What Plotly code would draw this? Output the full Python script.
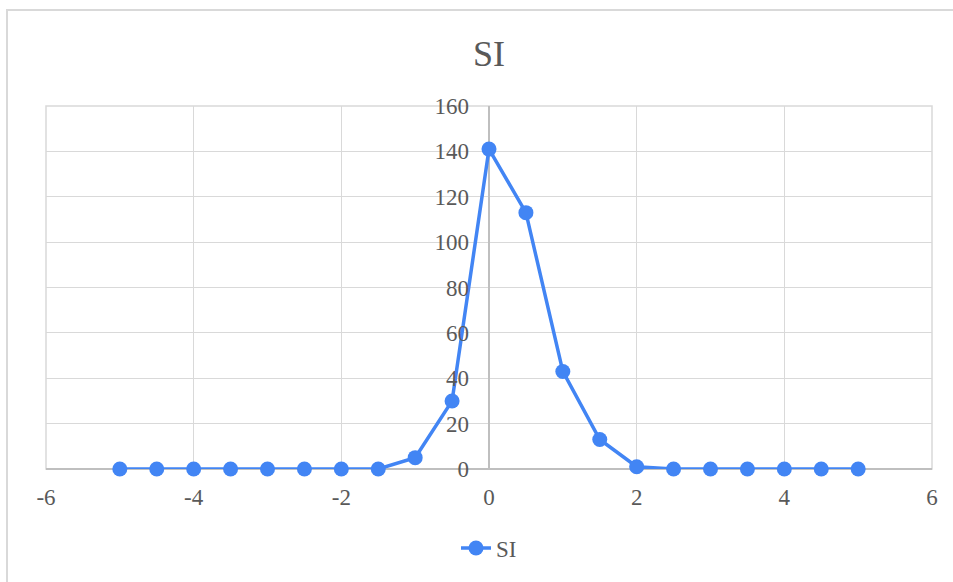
import plotly.graph_objects as go

x_vals = [-5, -4.5, -4, -3.5, -3, -2.5, -2, -1.5, -1, -0.5, 0, 0.5, 1, 1.5, 2, 2.5, 3, 3.5, 4, 4.5, 5]
si_vals = [0, 0, 0, 0, 0, 0, 0, 0, 5, 30, 141, 113, 43, 13, 1, 0, 0, 0, 0, 0, 0]
x_ticks = [-6, -4, -2, 0, 2, 4, 6]
x_tick_text = ["-6", "-4", "-2", "0", "2", "4", "6"]
y_ticks = [0, 20, 40, 60, 80, 100, 120, 140, 160]

FONT = "Liberation Serif, Times New Roman, serif"
BLUE = "#4285F4"
GRID = "#d9d9d9"
AXIS = "#bfbfbf"
TXT = "#595959"

fig = go.Figure()
fig.add_trace(go.Scatter(
    x=x_vals, y=si_vals, mode="lines+markers", name="SI",
    line=dict(color=BLUE, width=3.5),
    marker=dict(color=BLUE, size=15),
    cliponaxis=False,
))

W, H = 953, 582
ml, mr, mt, mb = 46, 21, 106, 113
pw = W - ml - mr
ph = H - mt - mb

fig.update_layout(
    width=W, height=H,
    margin=dict(l=ml, r=mr, t=mt, b=mb),
    paper_bgcolor="white", plot_bgcolor="white",
    font=dict(family=FONT, size=23, color=TXT),
    title=dict(text="SI", x=0.5, xref="paper", xanchor="center", y=1 - 53 / H, yanchor="middle",
               font=dict(family=FONT, size=36, color=TXT)),
    showlegend=True,
    legend=dict(orientation="h", x=0.5, xanchor="center", y=(469 - 548) / ph, yanchor="middle",
                font=dict(family=FONT, size=23, color=TXT)),
    xaxis=dict(range=[-6, 6], tickvals=x_ticks, ticktext=x_tick_text,
               showgrid=True, gridcolor=GRID, gridwidth=1,
               zeroline=True, zerolinecolor=AXIS, zerolinewidth=1.5,
               showline=False, ticks="", ticklabelstandoff=12,
               tickfont=dict(family=FONT, size=23, color=TXT)),
    yaxis=dict(range=[0, 160], tickvals=y_ticks, showgrid=True, gridcolor=GRID, gridwidth=1,
               zeroline=True, zerolinecolor=AXIS, zerolinewidth=1.5,
               anchor="free", position=0.5, showline=False, ticks="",
               ticklabelstandoff=20,
               tickfont=dict(family=FONT, size=23, color=TXT)),
    shapes=[
        dict(type="rect", xref="paper", yref="paper", x0=0, x1=1, y0=0, y1=1,
             line=dict(color=GRID, width=1.5), layer="below"),
        dict(type="rect", xref="paper", yref="paper",
             x0=(7 - ml) / pw, x1=(960 - ml) / pw,
             y0=(mt + ph - 600) / ph, y1=(mt + ph - 10) / ph,
             line=dict(color=GRID, width=2), layer="below"),
    ],
)

fig.write_html("out.html")
